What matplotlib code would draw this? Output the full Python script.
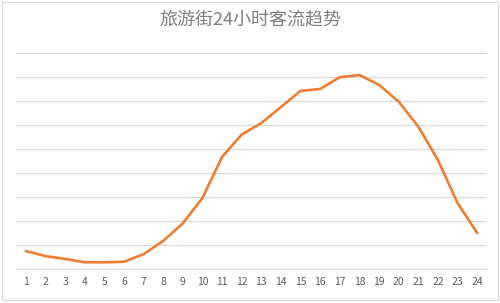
import matplotlib
matplotlib.use("Agg")
import matplotlib.pyplot as plt
from matplotlib.patches import Rectangle

plt.rcParams['font.family'] = ['Noto Sans CJK SC', 'DejaVu Sans']

# hours and relative visitor flow (no y scale shown in the original)
hours = list(range(1, 25))
flow = [0.75, 0.54, 0.42, 0.28, 0.28, 0.30, 0.62, 1.17, 1.90, 2.96, 4.67, 5.60,
        6.08, 6.75, 7.42, 7.50, 7.99, 8.08, 7.67, 6.97, 5.93, 4.54, 2.75, 1.50]
title = "旅游街24小时客流趋势"

fig = plt.figure(figsize=(5.0, 3.03), dpi=100)
ax = fig.add_axes([0.032, 0.1122, 0.942, 0.713])

ax.plot(hours, flow, color='#ED7D31', linewidth=1.9, solid_capstyle='round')

ax.set_xlim(0.5, 24.5)
ax.set_ylim(0, 9)
ax.set_yticks(range(0, 10))
ax.set_yticklabels([])
ax.set_xticks(hours)
ax.set_xticklabels([str(h) for h in hours], fontsize=7.5, color='#595959')
ax.tick_params(axis='both', length=0)
ax.tick_params(axis='x', pad=6)
ax.grid(axis='y', color='#D9D9D9', linewidth=0.9)
ax.set_axisbelow(True)
for s in ['top', 'right', 'left']:
    ax.spines[s].set_visible(False)
ax.spines['bottom'].set_color('#D9D9D9')

fig.text(0.5, 0.934, title, ha='center', va='center', fontsize=13, color='#7F7F7F')

# light frame around the chart area
fig.patches.append(Rectangle((0.004, 0.01), 0.992, 0.985, transform=fig.transFigure,
                             fill=False, edgecolor='#D9D9D9', linewidth=0.8))

fig.savefig("out.png", dpi=100, facecolor='white')
